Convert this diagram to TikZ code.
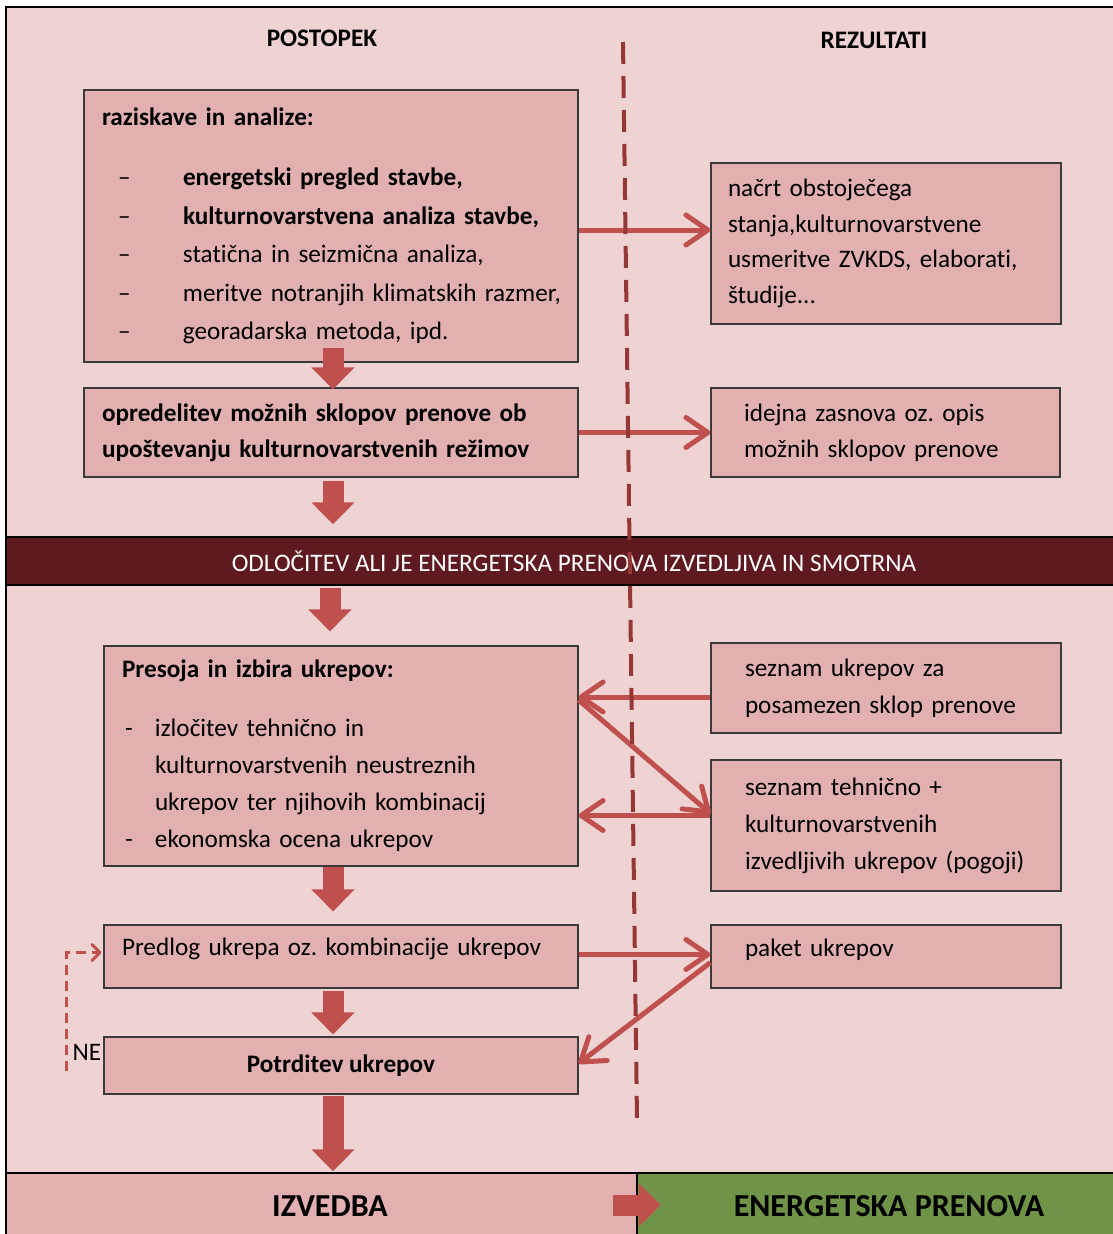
\documentclass[tikz,border=0pt]{standalone}
\usepackage{fontspec}
\setmainfont{Carlito}[Ligatures=NoCommon]
\usetikzlibrary{arrows.meta,calc}
\frenchspacing

\definecolor{bgpink}{HTML}{EFD3D3}
\definecolor{boxfill}{HTML}{E2B0B0}
\definecolor{boxline}{HTML}{3A3A3A}
\definecolor{barred}{HTML}{5E1A20}
\definecolor{arrowred}{HTML}{C0504D}
\definecolor{divred}{HTML}{953735}
\definecolor{izgreen}{HTML}{6F9448}

\tikzset{
    txt/.style={font=\fontsize{25.2}{37}\selectfont},
    box/.style={txt, draw=boxline, fill=boxfill, line width=1.2pt, align=left, inner ysep=0pt},
    blockarrow/.style={draw=arrowred, line width=21pt, -{Triangle[width=42pt,length=22pt]}},
    res/.style={draw=arrowred, line width=5pt, -{Straight Barb[length=22pt,width=30pt,round]}},
    fb/.style={draw=arrowred, line width=3pt, dash pattern=on 10pt off 6pt, -{Straight Barb[length=8pt,width=16pt,round]}},
    divider/.style={draw=divred, line width=4pt, dash pattern=on 22pt off 12pt},
}

\begin{document}
\begin{tikzpicture}[x=1pt,y=-1pt]

        \useasboundingbox (0,0) rectangle (1112,1234);
        \fill[white] (0,0) rectangle (1112,1234);
        \fill[bgpink] (6,7) rectangle (1120,1240);
        \draw[line width=1.5pt] (6,1240) -- (6,7) -- (1120,7);

        \node[txt, font=\fontsize{25.2}{37}\selectfont\bfseries] (post) at (322,38) {POSTOPEK};
        \node[txt, font=\fontsize{25.2}{37}\selectfont\bfseries] (rez) at (874,40) {REZULTATI};

        % postopek
        \node[box, minimum width=494pt, minimum height=272pt, inner xsep=18pt, text width=458pt,
              font=\fontsize{25.2}{38.5}\selectfont] (raz) at (331,226)
            {\textbf{raziskave in analize:}\\[21.5pt]
             \hspace*{16pt}\makebox[65pt][l]{–}\textbf{energetski pregled stavbe,}\\
             \hspace*{16pt}\makebox[65pt][l]{–}\mbox{\textbf{kulturnovarstvena analiza stavbe,}}\\
             \hspace*{16pt}\makebox[65pt][l]{–}statična in seizmična analiza,\\
             \hspace*{16pt}\makebox[65pt][l]{–}\mbox{meritve notranjih klimatskih razmer,}\\
             \hspace*{16pt}\makebox[65pt][l]{–}georadarska metoda, ipd.};
        \node[box, minimum width=494pt, minimum height=89pt, inner xsep=18pt, text width=458pt,
              font=\fontsize{25.2}{36}\selectfont\bfseries] (opr) at (331,432.5)
            {\mbox{opredelitev možnih sklopov prenove ob}\\
             \mbox{upoštevanju kulturnovarstvenih režimov}};

        \node[txt, fill=barred, draw=black, line width=1.5pt, text=white,
              minimum width=1114pt, minimum height=48pt] (odl) at (563,561)
            {\hspace*{22pt}ODLOČITEV ALI JE ENERGETSKA PRENOVA IZVEDLJIVA IN SMOTRNA};

        \node[box, minimum width=474pt, minimum height=220pt, inner xsep=18pt, text width=438pt] (pres) at (341,756)
            {\textbf{Presoja in izbira ukrepov:}\\[22pt]
             \hspace*{3pt}\makebox[30pt][l]{-}izločitev tehnično in\\
             \hspace*{33pt}\mbox{kulturnovarstvenih neustreznih}\\
             \hspace*{33pt}\mbox{ukrepov ter njihovih kombinacij}\\
             \hspace*{3pt}\makebox[30pt][l]{-}ekonomska ocena ukrepov};
        \node[box, minimum width=474pt, minimum height=63pt, inner xsep=18pt, text width=438pt,
              text depth=20pt] (pred) at (341,956.5)
            {\mbox{Predlog ukrepa oz. kombinacije ukrepov}};
        \node[box, minimum width=474pt, minimum height=57pt, align=center,
              font=\fontsize{25.2}{37}\selectfont\bfseries] (pot) at (341,1065.5) {Potrditev ukrepov};

        % rezultati
        \node[box, minimum width=350pt, minimum height=161pt, inner xsep=17pt, text width=316pt,
              font=\fontsize{25.2}{35.7}\selectfont] (nacrt) at (886,243.5)
            {načrt obstoječega\\
             \mbox{stanja,kulturnovarstvene}\\
             \mbox{usmeritve ZVKDS, elaborati,}\\
             študije...};
        \node[box, minimum width=349pt, minimum height=89pt, inner xsep=33pt, text width=283pt,
              font=\fontsize{25.2}{36}\selectfont] (idej) at (885.5,432.5)
            {\mbox{idejna zasnova oz. opis}\\
             \mbox{možnih sklopov prenove}};
        \node[box, minimum width=350pt, minimum height=90pt, inner xsep=34pt, text width=282pt] (sez) at (886,688)
            {seznam ukrepov za\\
             \mbox{posamezen sklop prenove}};
        \node[box, minimum width=350pt, minimum height=131pt, inner xsep=34pt, text width=282pt] (teh) at (886,825.5)
            {seznam tehnično +\\
             kulturnovarstvenih\\
             \mbox{izvedljivih ukrepov (pogoji)}};
        \node[box, minimum width=350pt, minimum height=63pt, inner xsep=34pt, text width=282pt,
              text depth=18pt] (paket) at (886,956.5) {paket ukrepov};

        % spodaj
        \node[fill=boxfill, draw=black, line width=1.5pt, minimum width=631pt, minimum height=67pt,
              font=\fontsize{32}{38}\selectfont\bfseries] (izv) at (321.5,1206.5) {\hspace*{17pt}IZVEDBA};
        \node[fill=izgreen, draw=black, line width=1.5pt, minimum width=479pt, minimum height=67pt,
              font=\fontsize{32}{38}\selectfont\bfseries] (en) at (876.5,1206.5) {\hspace*{25pt}ENERGETSKA PRENOVA};

        \draw[blockarrow] ($(raz.south)+(2,-15)$) -- ($(opr.north)+(2,2)$);
        \draw[blockarrow] ($(opr.south)+(2,3)$) -- ($(opr.south |- odl.north)+(2,-12)$);
        \draw[blockarrow] ($(pres.north |- odl.south)+(-11,2)$) -- ($(pres.north)+(-11,-14)$);
        \draw[blockarrow] ($(pres.south)+(-8,0)$) -- ($(pred.north)+(-8,-13)$);
        \draw[blockarrow] ($(pred.south)+(-8,2)$) -- ($(pot.north)+(-8,-2)$);
        \draw[blockarrow] ($(pot.south)+(-8,1)$) -- ($(pot.south |- izv.north)+(-8,-1)$);
        \draw[blockarrow] ($(izv.east)+(-25,-1.5)$) -- ($(izv.east)+(23,-1.5)$);

        \draw[res] ($(raz.east)+(0,4)$) -- ($(raz.east -| nacrt.west)+(0,4)$);
        \draw[res] (opr.east) -- (opr.east -| idej.west);
        \draw[res] ($(sez.west)+(0,9)$) -- ($(pres.east |- sez.west)+(0,9)$);
        \draw[res] ($(pres.east)+(0,-56)$) -- ($(teh.west)+(0,-12)$);
        \draw[res] ($(teh.west)+(0,-10)$) -- ($(pres.east |- teh.west)+(0,-10)$);
        \draw[res] ($(pred.east)+(0,-2)$) -- ($(pred.east -| paket.west)+(0,-2)$);
        \draw[res] ($(paket.west)+(0,6)$) -- ($(pot.east)+(0,-2)$);

        % NE
        \coordinate (nebot) at ($(pot.west)+(-37,5)$);
        \draw[fb] (nebot) |- ($(pred.west)+(-2,-4)$);
        \node[txt] (ne) at (87,1052) {NE};

        \coordinate (divtop) at (623,42);
        \coordinate (divbot) at (637,1120);
        \draw[divider] (divtop) -- (divbot);

    \end{tikzpicture}
\end{document}
